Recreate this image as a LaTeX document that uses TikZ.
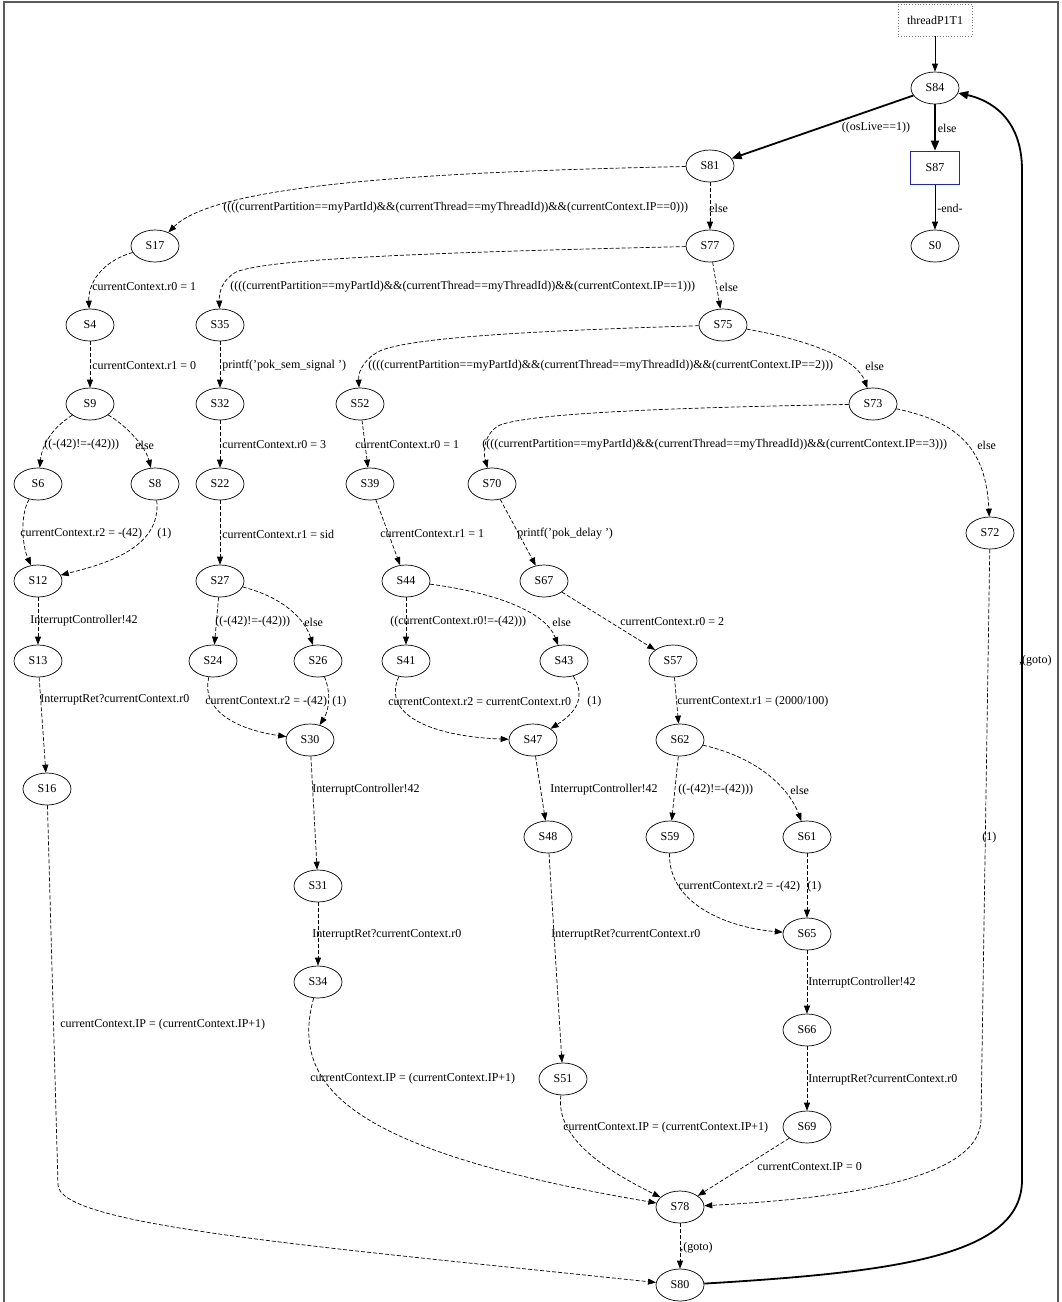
\documentclass[tikz,border=0pt]{standalone}
\usepackage{fontspec}
\setmainfont{Liberation Serif}
\usetikzlibrary{arrows.meta,shapes.geometric}
\definecolor{framegray}{RGB}{90,90,90}
\definecolor{nodeblue}{RGB}{30,30,220}
\tikzset{
  st/.style={draw, ellipse, minimum width=48pt, minimum height=32pt, inner sep=0pt, line width=0.7pt, font=\fontsize{12}{14}\selectfont},
  lbl/.style={anchor=west, inner sep=0pt, font=\fontsize{12}{14}\selectfont},
  tip/.style={-{Triangle[length=8pt,width=6pt]}},
  e/.style={tip, draw, line width=0.7pt, dash pattern=on 4pt off 2pt},
  es/.style={tip, draw, line width=0.8pt},
  eb/.style={-{Triangle[length=10pt,width=8pt]}, draw, line width=1.8pt},
}
\begin{document}
\begin{tikzpicture}[x=1pt, y=-1pt]
\useasboundingbox (0,0) rectangle (1062,1302);
\fill[white] (0,0) rectangle (1062,1302);
% outer frame
\draw[framegray, line width=1.6pt] (4,1302) -- (4,2) -- (1058,2) -- (1058,1302);

% start and end boxes
\node[draw=gray, dotted, line width=0.8pt, minimum width=74pt, minimum height=32pt, font=\fontsize{12}{14}\selectfont] (thr) at (935,20) {threadP1T1};
\node[draw=nodeblue, line width=1.6pt, minimum width=49pt, minimum height=33pt, font=\fontsize{12}{14}\selectfont] (S87) at (935,168) {S87};

% states
\node[st] (S84) at (935,88) {S84};
\node[st] (S81) at (710,166) {S81};
\node[st] (S0) at (935,246) {S0};
\node[st] (S17) at (155,246) {S17};
\node[st] (S77) at (710,246) {S77};
\node[st] (S4) at (90,325) {S4};
\node[st] (S35) at (220,325) {S35};
\node[st] (S75) at (723,325) {S75};
\node[st] (S9) at (90,404) {S9};
\node[st] (S32) at (220,404) {S32};
\node[st] (S52) at (360,404) {S52};
\node[st] (S73) at (873,404) {S73};
\node[st] (S6) at (38,484) {S6};
\node[st] (S8) at (155,484) {S8};
\node[st] (S22) at (220,484) {S22};
\node[st] (S39) at (370,484) {S39};
\node[st] (S70) at (492,484) {S70};
\node[st] (S72) at (990,533) {S72};
\node[st] (S12) at (38,581) {S12};
\node[st] (S27) at (220,581) {S27};
\node[st] (S44) at (406,581) {S44};
\node[st] (S67) at (544,581) {S67};
\node[st] (S13) at (38,661) {S13};
\node[st] (S24) at (213,661) {S24};
\node[st] (S26) at (318,661) {S26};
\node[st] (S41) at (406,661) {S41};
\node[st] (S43) at (564,661) {S43};
\node[st] (S57) at (673,661) {S57};
\node[st] (S30) at (310,740) {S30};
\node[st] (S47) at (533,740) {S47};
\node[st] (S62) at (680,740) {S62};
\node[st] (S16) at (47,789) {S16};
\node[st] (S48) at (548,837) {S48};
\node[st] (S59) at (670,837) {S59};
\node[st] (S61) at (807,837) {S61};
\node[st] (S31) at (318,886) {S31};
\node[st] (S65) at (807,934) {S65};
\node[st] (S34) at (318,982) {S34};
\node[st] (S66) at (807,1030) {S66};
\node[st] (S51) at (563,1079) {S51};
\node[st] (S69) at (807,1127) {S69};
\node[st] (S78) at (680,1207) {S78};
\node[st] (S80) at (680,1285) {S80};

% entry and the main loop
\draw[es] (thr) -- (S84);
\draw[eb] (S84) -- (S81) node[lbl] (l1) at (841,128) {((osLive==1))};
\draw[eb] (S84) -- (S87) node[lbl] (l2) at (937,128) {else};
\draw[es] (S87) -- (S0) node[lbl] (l3) at (937,208) {-end-};
\draw[eb] (S80) .. controls (900,1272) and (1022,1255) .. (1022,1180) -- (1022,170)
  .. controls (1022,118) and (990,100) .. (S84);
\node[lbl] (l4) at (1019,661) {,(goto)};

% dispatch on the instruction pointer
\draw[e] (S81) .. controls (420,172) and (215,185) .. (S17)
  node[lbl] (l5) at (223,208) {((((currentPartition==myPartId)\&\&(currentThread==myThreadId))\&\&(currentContext.IP==0)))};
\draw[e] (S81) -- (S77) node[lbl] (l6) at (709,208) {else};
\draw[e] (S77) .. controls (450,252) and (270,258) .. (236,272) .. controls (222,280) and (219,292) .. (S35)
  node[lbl] (l7) at (230,287) {((((currentPartition==myPartId)\&\&(currentThread==myThreadId))\&\&(currentContext.IP==1)))};
\draw[e] (S77) -- (S75) node[lbl] (l8) at (719,287) {else};
\draw[e] (S75) .. controls (560,330) and (420,336) .. (382,350) .. controls (366,357) and (358,370) .. (S52)
  node[lbl] (l9) at (368,366) {((((currentPartition==myPartId)\&\&(currentThread==myThreadId))\&\&(currentContext.IP==2)))};
\draw[e] (S75) .. controls (820,342) and (858,362) .. (S73) node[lbl] (l10) at (865,366) {else};
\draw[e] (S73) .. controls (650,408) and (530,414) .. (500,425) .. controls (486,432) and (482,448) .. (S70)
  node[lbl] (l11) at (482,445) {((((currentPartition==myPartId)\&\&(currentThread==myThreadId))\&\&(currentContext.IP==3)))};
\draw[e] (S73) .. controls (960,422) and (986,450) .. (S72) node[lbl] (l12) at (977,445) {else};

% branch IP==0
\draw[e] (S17) .. controls (100,262) and (88,285) .. (S4) node[lbl] (l13) at (92,287) {currentContext.r0 = 1};
\draw[e] (S4) -- (S9) node[lbl] (l14) at (92,366) {currentContext.r1 = 0};
\draw[e] (S9) .. controls (52,428) and (42,445) .. (S6) node[lbl] (l15) at (44,445) {((-(42)!=-(42)))};
\draw[e] (S9) .. controls (125,425) and (145,445) .. (S8) node[lbl] (l16) at (135,445) {else};
\draw[e] (S6) .. controls (20,515) and (22,545) .. (S12) node[lbl] (l17) at (20,534) {currentContext.r2 = -(42)};
\draw[e] (S8) .. controls (162,550) and (100,565) .. (S12) node[lbl] (l18) at (157,534) {(1)};
\draw[e] (S12) -- (S13) node[lbl] (l19) at (30,621) {InterruptController!42};
\draw[e] (S13) -- (S16) node[lbl] (l20) at (40,700) {InterruptRet?currentContext.r0};
\draw[e] (S16) -- (58,1185) .. controls (60,1225) and (300,1245) .. (S80)
  node[lbl] (l21) at (60,1025) {currentContext.IP = (currentContext.IP+1)};

% branch IP==1
\draw[e] (S35) -- (S32) node[lbl] (l22) at (222,366) {printf('pok\_sem\_signal ')};
\draw[e] (S32) -- (S22) node[lbl] (l23) at (222,445) {currentContext.r0 = 3};
\draw[e] (S22) -- (S27) node[lbl] (l24) at (222,534) {currentContext.r1 = sid};
\draw[e] (S27) -- (S24) node[lbl] (l25) at (215,622) {((-(42)!=-(42)))};
\draw[e] (S27) .. controls (285,598) and (305,620) .. (S26) node[lbl] (l26) at (304,622) {else};
\draw[e] (S24) .. controls (200,712) and (240,730) .. (S30) node[lbl] (l27) at (205,702) {currentContext.r2 = -(42)};
\draw[e] (S26) .. controls (332,695) and (328,712) .. (S30) node[lbl] (l28) at (332,702) {(1)};
\draw[e] (S30) -- (S31) node[lbl] (l29) at (312,790) {InterruptController!42};
\draw[e] (S31) -- (S34) node[lbl] (l30) at (312,935) {InterruptRet?currentContext.r0};
\draw[e] (S34) .. controls (290,1085) and (345,1150) .. (S78)
  node[lbl] (l31) at (310,1079) {currentContext.IP = (currentContext.IP+1)};

% branch IP==2
\draw[e] (S52) -- (S39) node[lbl] (l32) at (355,445) {currentContext.r0 = 1};
\draw[e] (S39) -- (S44) node[lbl] (l33) at (380,534) {currentContext.r1 = 1};
\draw[e] (S44) -- (S41) node[lbl] (l34) at (390,622) {((currentContext.r0!=-(42)))};
\draw[e] (S44) .. controls (490,592) and (545,610) .. (S43) node[lbl] (l35) at (552,622) {else};
\draw[e] (S41) .. controls (380,718) and (440,737) .. (S47) node[lbl] (l36) at (388,702) {currentContext.r2 = currentContext.r0};
\draw[e] (S43) .. controls (588,700) and (572,715) .. (S47) node[lbl] (l37) at (587,702) {(1)};
\draw[e] (S47) -- (S48) node[lbl] (l38) at (550,790) {InterruptController!42};
\draw[e] (S48) -- (S51) node[lbl] (l39) at (551,935) {InterruptRet?currentContext.r0};
\draw[e] (S51) .. controls (555,1140) and (610,1172) .. (S78)
  node[lbl] (l40) at (563,1128) {currentContext.IP = (currentContext.IP+1)};

% branch IP==3
\draw[e] (S70) -- (S67) node[lbl] (l41) at (517,534) {printf('pok\_delay ')};
\draw[e] (S67) -- (S57) node[lbl] (l42) at (620,622) {currentContext.r0 = 2};
\draw[e] (S57) -- (S62) node[lbl] (l43) at (677,702) {currentContext.r1 = (2000/100)};
\draw[e] (S62) -- (S59) node[lbl] (l44) at (678,790) {((-(42)!=-(42)))};
\draw[e] (S62) .. controls (760,758) and (790,790) .. (S61) node[lbl] (l45) at (790,790) {else};
\draw[e] (S59) .. controls (668,905) and (730,928) .. (S65) node[lbl] (l46) at (678,887) {currentContext.r2 = -(42)};
\draw[e] (S61) -- (S65) node[lbl] (l47) at (807,887) {(1)};
\draw[e] (S65) -- (S66) node[lbl] (l48) at (808,983) {InterruptController!42};
\draw[e] (S66) -- (S69) node[lbl] (l49) at (808,1080) {InterruptRet?currentContext.r0};
\draw[e] (S69) -- (S78) node[lbl] (l50) at (757,1167) {currentContext.IP = 0};

% fallthrough
\draw[e] (S72) -- (981,1120) .. controls (980,1178) and (850,1198) .. (S78)
  node[lbl] (l51) at (982,838) {(1)};

% back to the loop head
\draw[e] (S78) -- (S80) node[lbl] (l52) at (680,1248) {,(goto)};
\end{tikzpicture}
\end{document}
